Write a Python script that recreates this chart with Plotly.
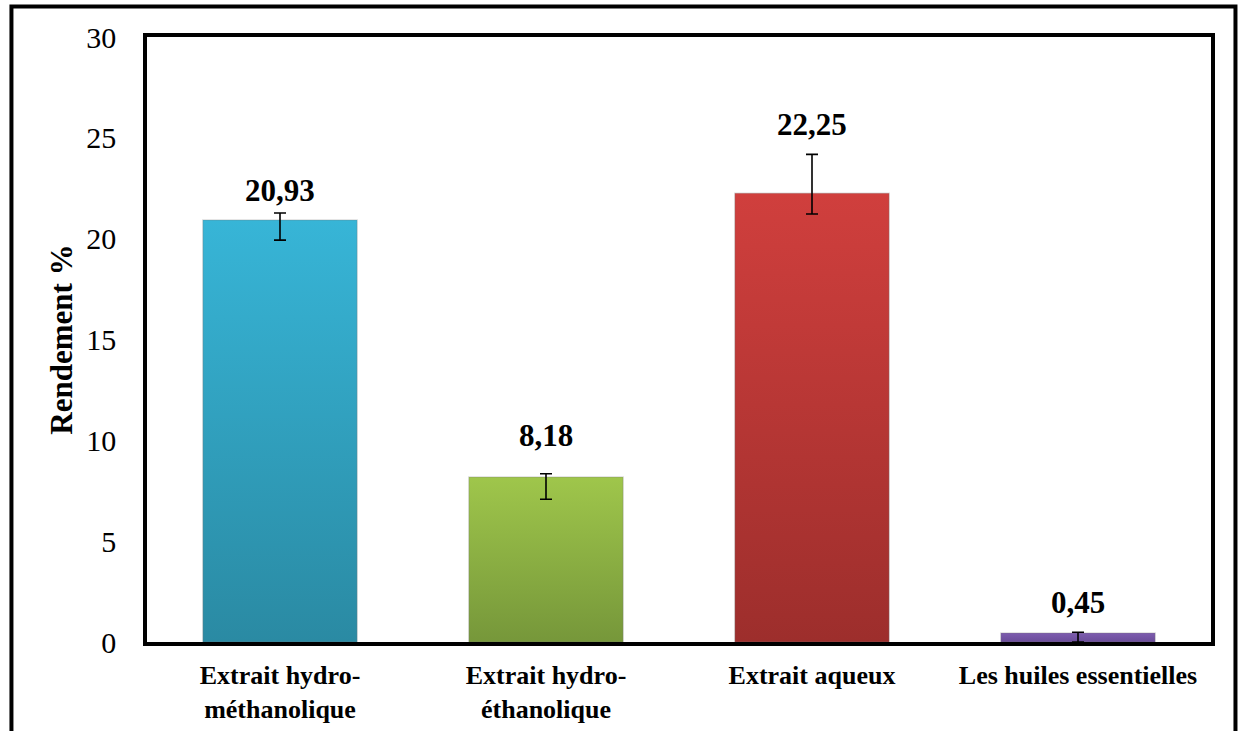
import plotly.graph_objects as go

# Extraction yields (%) with error bars
categories = ["Extrait hydro-<br>méthanolique", "Extrait hydro-<br>éthanolique",
              "Extrait aqueux", "Les huiles essentielles"]
rendement = [20.93, 8.18, 22.25, 0.45]
err_plus = [0.34, 0.16, 1.93, 0.03]
err_minus = [1.00, 1.10, 1.03, 0.45]
y_ticks = [0, 5, 10, 15, 20, 25, 30]

# bar colours: (bottom, top) of the vertical gradient
bar_colors = [("#2a8aa3", "#37b5d7"), ("#76973a", "#9fc64b"),
              ("#9d2e2c", "#d03f3d"), ("#6a4c98", "#7e5db0")]
label_shift = [3, 19, 10, 10]   # px above the error-bar tip
half_w = 0.29
serif = "Liberation Serif, Times New Roman, serif"

fig = go.Figure()

for i, (v, (c0, c1)) in enumerate(zip(rendement, bar_colors)):
    fig.add_trace(go.Scatter(
        x=[i - half_w, i + half_w, i + half_w, i - half_w, i - half_w],
        y=[0, 0, v, v, 0],
        fill="toself", mode="lines",
        line=dict(width=1.5, color="rgba(120,120,120,0.25)"),
        fillcolor=c1,
        fillgradient=dict(type="vertical", colorscale=[[0, c0], [1, c1]]),
        hoverinfo="skip", showlegend=False,
    ))

fig.add_trace(go.Scatter(
    x=list(range(len(rendement))), y=rendement, mode="markers",
    marker=dict(size=1, color="rgba(0,0,0,0)"),
    error_y=dict(type="data", symmetric=False, array=err_plus,
                 arrayminus=err_minus, color="black", thickness=1.6, width=6),
    showlegend=False, hovertemplate="%{y}<extra></extra>",
))

for i, v in enumerate(rendement):
    fig.add_annotation(
        x=i, y=v + err_plus[i], yanchor="bottom", yshift=label_shift[i],
        text=f"<b>{v:.2f}</b>".replace(".", ","), showarrow=False,
        font=dict(family=serif, size=31, color="black"),
    )

# outer frame
fig.add_shape(type="rect", xref="paper", yref="paper",
              x0=-0.1274, x1=1.0230, y0=-0.17, y1=1.0504,
              line=dict(color="black", width=4), layer="above")

fig.update_layout(
    width=1240, height=731,
    margin=dict(l=147, r=29, t=37, b=89),
    paper_bgcolor="white", plot_bgcolor="white",
    xaxis=dict(range=[-0.5, 3.5], tickvals=list(range(4)),
               ticktext=[f"<b>{c}</b>".replace("<br>", "</b><br><b>") for c in categories],
               showgrid=False, zeroline=False, showline=True, mirror=True,
               linecolor="black", linewidth=3.5, ticks="", automargin=False,
               tickfont=dict(family=serif, size=26, color="black"),
               ticklabelstandoff=7),
    yaxis=dict(range=[0, 30], tickvals=y_ticks, showgrid=False, zeroline=False,
               showline=True, mirror=True, linecolor="black", linewidth=3.5,
               ticks="", automargin=False,
               tickfont=dict(family=serif, size=30, color="black"),
               ticklabelstandoff=21,
               title=dict(text="<b>Rendement %</b>", standoff=5,
                          font=dict(family=serif, size=31, color="black"))),
)

fig.write_html("out.html")
